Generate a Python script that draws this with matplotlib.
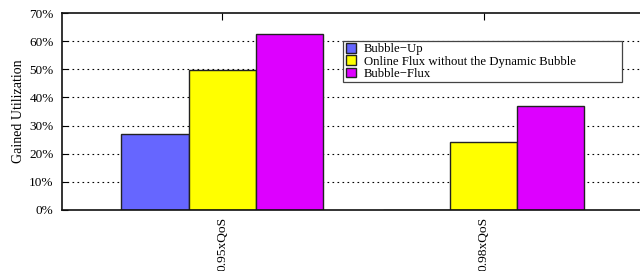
import numpy as np
import matplotlib.pyplot as plt
from matplotlib.ticker import FuncFormatter
from matplotlib.patches import Rectangle

plt.rcParams['font.family'] = ['Liberation Serif', 'DejaVu Serif']

groups = ['0.95xQoS', '0.98xQoS']
series = ['Bubble\u2212Up', 'Online Flux without the Dynamic Bubble', 'Bubble\u2212Flux']
bubble_up = [27.0, 0.0]
online_flux = [49.7, 24.2]
bubble_flux = [62.6, 37.0]
colors = ['#6666ff', '#ffff00', '#dd00ff']

fig = plt.figure(figsize=(6.4, 2.71), dpi=100)
ax = fig.add_axes([62 / 640, 1 - 210 / 271, 580 / 640, 197 / 271])

x = np.arange(len(groups))
w = 0.257
for k, (vals, c, lab) in enumerate(zip([bubble_up, online_flux, bubble_flux], colors, series)):
    ax.bar(x + (k - 1) * w, vals, width=w, color=c, edgecolor='#222222',
           linewidth=1.0, label=lab, zorder=3)

ax.set_xlim(-0.613, 1.606)
ax.set_ylim(0, 70)
ax.set_yticks(np.arange(0, 71, 10))
ax.yaxis.set_major_formatter(FuncFormatter(lambda v, p: '%d%%' % v))
ax.set_xticks(x)
ax.set_xticklabels(groups, rotation=90, va='top', ha='center')

for v in range(10, 70, 10):
    ax.axhline(v, color='black', linestyle=(0, (1.5, 3)), linewidth=0.8, zorder=1)

ax.tick_params(axis='y', direction='in', length=4, width=0.8, labelsize=9.5, pad=6, right=False)
ax.tick_params(axis='x', direction='in', length=5, labelsize=9.7, pad=5, top=True, bottom=False)
ax.spines['right'].set_visible(False)
for s in ['left', 'top', 'bottom']:
    ax.spines[s].set_linewidth(1.2)
    ax.spines[s].set_color('#111111')
    ax.spines[s].set_zorder(4)

ax.set_ylabel('Gained Utilization', fontsize=10, labelpad=3)

# legend box (gnuplot style, wide frame)
box = Rectangle((343 / 640, 1 - 82 / 271), (622 - 343) / 640, 41 / 271,
                transform=fig.transFigure, facecolor='white', edgecolor='#444444',
                linewidth=0.9, zorder=5)
fig.patches.append(box)
leg = fig.legend(*ax.get_legend_handles_labels(), loc='upper left',
                 bbox_to_anchor=(345 / 640, 1 - 42 / 271),
                 fontsize=9.2, frameon=False, handlelength=0.75, handleheight=0.75,
                 handletextpad=0.6, labelspacing=0.0, borderpad=0.1, borderaxespad=0)
leg.set_zorder(6)

fig.savefig('out.png', dpi=100)
